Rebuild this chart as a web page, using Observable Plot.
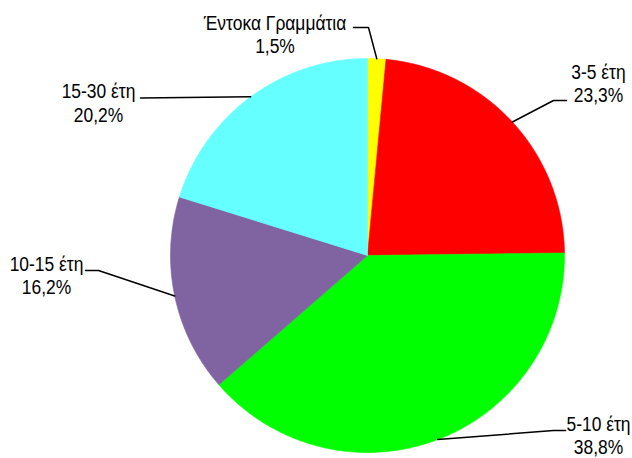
<!DOCTYPE html>
<html><head><meta charset="utf-8">
<script src="https://cdn.jsdelivr.net/npm/d3@7"></script>
<script src="https://cdn.jsdelivr.net/npm/@observablehq/plot@0.6"></script>
<style>html,body{margin:0;padding:0;background:#fff}</style>
</head><body><div id="chart"></div>
<script>
// ---- data ----
const categories = ["Έντοκα Γραμμάτια", "3-5 έτη", "5-10 έτη", "10-15 έτη", "15-30 έτη"];
const values = [1.5, 23.3, 38.8, 16.2, 20.2];
const percentLabels = ["1,5%", "23,3%", "38,8%", "16,2%", "20,2%"];
const colors = ["#ffff00", "#ff0000", "#00ff00", "#8064a2", "#66ffff"];

// ---- layout (pixels of the 632x458 canvas) ----
const W = 632, H = 458, CX = 367, CY = 255, R = 197;
const FONT = "'Liberation Sans', Arial, sans-serif";
const FS = 21;
const NARROW = 0.83; // horizontal condensing to imitate Arial Narrow
// label text centre x, baselines of line 1 and 2, leader elbow & end
const labelCx = [274.5, 598, 598, 46, 98];
const labelBase1 = [29, 78, 430, 270, 97.7];
const labelBase2 = [52, 101.5, 453, 293, 121];
const leaderElbow = [[368, 27], [553, 100], [553, 430], [98, 270], null];
const leaderEnd = [[353, 27], [566, 100], [565, 430], [85, 270], [140, 97.5]];

const ux = px => (px - CX) / R;
const uy = py => (CY - py) / R;

const rows = categories.map((c, i) => ({cat: c, value: values[i], pct: percentLabels[i], color: colors[i]}));
const arcs = d3.pie().sort(null).value(d => d.value)(rows);

const marks = [];
arcs.forEach(a => {
  const pts = [{x: 0, y: 0}];
  const n = Math.max(4, Math.ceil((a.endAngle - a.startAngle) / 0.01));
  for (let k = 0; k <= n; k++) {
    const t = a.startAngle + (a.endAngle - a.startAngle) * k / n;
    pts.push({x: Math.sin(t), y: Math.cos(t)});
  }
  pts.push({x: 0, y: 0});
  marks.push(Plot.line(pts, {x: "x", y: "y", fill: a.data.color, stroke: a.data.color, strokeWidth: 0.6, curve: "linear"}));
});

// leader lines: from slice mid-angle on the rim to the label
const leaders = [];
arcs.forEach((a, i) => {
  const m = (a.startAngle + a.endAngle) / 2;
  leaders.push({cat: a.data.cat, x: Math.sin(m), y: Math.cos(m)});
  if (leaderElbow[i]) leaders.push({cat: a.data.cat, x: ux(leaderElbow[i][0]), y: uy(leaderElbow[i][1])});
  leaders.push({cat: a.data.cat, x: ux(leaderEnd[i][0]), y: uy(leaderEnd[i][1])});
});
marks.push(Plot.line(leaders, {x: "x", y: "y", z: "cat", stroke: "#000", strokeWidth: 1.5, curve: "linear"}));

const textRows1 = rows.map((d, i) => ({t: d.cat, x: ux(labelCx[i]), y: uy(labelBase1[i])}));
const textRows2 = rows.map((d, i) => ({t: d.pct, x: ux(labelCx[i]), y: uy(labelBase2[i])}));
for (const tr of [textRows1, textRows2]) {
  marks.push(Plot.text(tr, {x: "x", y: "y", text: "t", textAnchor: "middle", lineAnchor: "bottom",
    fontSize: FS, fontFamily: FONT, fill: "#000"}));
}

const chart = Plot.plot({
  width: W, height: H,
  margin: 0,
  x: {domain: [ux(0), ux(W)], axis: null},
  y: {domain: [uy(H), uy(0)], axis: null},
  style: {background: "#fff", fontFamily: FONT},
  marks
});
// condense the label glyphs horizontally around their anchor point
chart.querySelectorAll("text").forEach(t => {
  const x = +(t.getAttribute("x") || 0);
  const prev = t.getAttribute("transform") || "";
  t.setAttribute("transform", `${prev} translate(${x},0) scale(${NARROW},1) translate(${-x},0)`.trim());
});
document.getElementById("chart").appendChild(chart);
</script>
</body></html>
